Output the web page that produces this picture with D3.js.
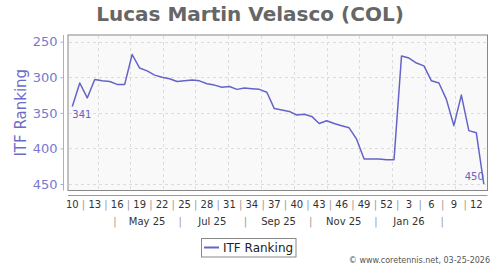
<!DOCTYPE html>
<html>
<head>
<meta charset="utf-8">
<script src="https://cdn.jsdelivr.net/npm/d3@7"></script>
<style>
  body { margin: 0; background: #fff; }
  text { font-family: "DejaVu Sans", sans-serif; }
</style>
</head>
<body>
<div id="viz"></div>
<script>
// weekly ITF ranking, one value per week starting week 10 of 2025
const ranking = [341, 308, 329, 303, 305, 306, 310, 310, 268, 287,
                 291, 297, 300, 302, 306, 305, 304, 305, 309, 311,
                 314, 313, 317, 315, 316, 317, 321, 344, 346, 348,
                 353, 352, 355, 365, 361, 365, 368, 371, 387, 415,
                 415, 415, 416, 416, 270, 273, 280, 284, 305, 308,
                 331, 368, 325, 375, 378, 450];
const weekLabels = ['10', '13', '16', '19', '22', '25', '28', '31', '34', '37',
                    '40', '43', '46', '49', '52', '3', '6', '9', '12'];
const monthLabels = ['May 25', 'Jul 25', 'Sep 25', 'Nov 25', 'Jan 26'];
const yTicks = [250, 300, 350, 400, 450];
const firstDate = new Date(Date.UTC(2025, 2, 8));

const width = 500;
const height = 270;
const plotLeft = 68, plotRight = 487.5, plotTop = 35, plotBottom = 190.5;
const lineColor = '#6464c8';

const dates = ranking.map((d, i) => d3.utcDay.offset(firstDate, i * 7));

const x = d3.scaleUtc()
      .domain([dates[0], dates[dates.length - 1]])
      .range([72.3, 483.8]);

const y = d3.scaleLinear()
      .domain([250, 450])
      .range([41.7, 184]);

const svg = d3.select('#viz')
      .append('svg')
      .attr('width', width)
      .attr('height', height);

// title
svg.append('text')
    .attr('x', 250)
    .attr('y', 20.5)
    .attr('text-anchor', 'middle')
    .attr('font-size', 20)
    .attr('font-weight', 'bold')
    .attr('fill', '#666')
    .text('Lucas Martin Velasco (COL)');

// plot frame
svg.append('rect')
    .attr('x', plotLeft)
    .attr('y', plotTop)
    .attr('width', plotRight - plotLeft)
    .attr('height', plotBottom - plotTop)
    .attr('fill', '#f9f9f9')
    .attr('stroke', '#888')
    .attr('stroke-width', 1);

const grid = svg.append('g')
      .attr('stroke', '#dcdcdc')
      .attr('stroke-width', 1)
      .attr('stroke-dasharray', '3,3');

grid.selectAll('line.h')
    .data(yTicks)
    .join('line')
    .attr('class', 'h')
    .attr('x1', plotLeft + 1)
    .attr('x2', plotRight - 1)
    .attr('y1', d => Math.round(y(d)) + 0.5)
    .attr('y2', d => Math.round(y(d)) + 0.5);

const monthStarts = d3.utcMonth.range(d3.utcMonth.ceil(dates[0]), dates[dates.length - 1]);
grid.selectAll('line.v')
    .data(monthStarts)
    .join('line')
    .attr('class', 'v')
    .attr('x1', d => Math.round(x(d)) + 0.5)
    .attr('x2', d => Math.round(x(d)) + 0.5)
    .attr('y1', plotTop + 1)
    .attr('y2', plotBottom - 1);

// y axis
const yAxis = svg.append('g')
      .attr('transform', 'translate(63.5,0)')
      .call(d3.axisLeft(y).tickValues(yTicks).tickSize(3).tickPadding(3));
yAxis.select('.domain').remove();
yAxis.selectAll('.tick line').attr('stroke', '#aaaadd');
yAxis.selectAll('.tick text')
    .attr('font-size', 13)
    .attr('font-family', '"DejaVu Sans", sans-serif')
    .attr('fill', '#7878d2');
yAxis.append('line')
    .attr('y1', plotTop)
    .attr('y2', plotBottom)
    .attr('stroke', '#aaaadd');

svg.append('text')
    .attr('transform', 'translate(26,' + ((plotTop + plotBottom) / 2) + ') rotate(-90)')
    .attr('text-anchor', 'middle')
    .attr('font-size', 15)
    .attr('fill', '#6c6cc8')
    .text('ITF Ranking');

// x axis line
svg.append('line')
    .attr('x1', plotLeft)
    .attr('x2', plotRight)
    .attr('y1', 195.5)
    .attr('y2', 195.5)
    .attr('stroke', '#999');

// week labels with separators
const weekDates = weekLabels.map((d, i) => dates[i * 3]);
svg.append('g').selectAll('text')
    .data(weekLabels)
    .join('text')
    .attr('x', (d, i) => x(weekDates[i]))
    .attr('y', 208)
    .attr('text-anchor', 'middle')
    .attr('font-size', 10)
    .attr('fill', '#333')
    .text(d => d);

svg.append('g').selectAll('text')
    .data(weekDates.slice(1))
    .join('text')
    .attr('x', (d, i) => (x(weekDates[i]) + x(d)) / 2)
    .attr('y', 208)
    .attr('text-anchor', 'middle')
    .attr('font-size', 10)
    .attr('fill', '#999')
    .text('|');

// month labels with separators
const parseMonth = d3.utcParse('%b %y');
const monthMid = monthLabels.map(m => d3.utcDay.offset(parseMonth(m), 16));
svg.append('g').selectAll('text')
    .data(monthLabels)
    .join('text')
    .attr('x', (d, i) => x(monthMid[i]))
    .attr('y', 225)
    .attr('text-anchor', 'middle')
    .attr('font-size', 10)
    .attr('fill', '#333')
    .text(d => d);

const monthSeps = [d3.utcMonth.offset(monthMid[0], -1)].concat(monthMid.map(d => d3.utcMonth.offset(d, 1)));
svg.append('g').selectAll('text')
    .data(monthSeps)
    .join('text')
    .attr('x', d => x(d))
    .attr('y', 225)
    .attr('text-anchor', 'middle')
    .attr('font-size', 10)
    .attr('fill', '#999')
    .text('|');

// the ranking line
const line = d3.line()
      .x((d, i) => x(dates[i]))
      .y(d => y(d));

svg.append('path')
    .datum(ranking)
    .attr('d', line)
    .attr('fill', 'none')
    .attr('stroke', lineColor)
    .attr('stroke-width', 1.5)
    .attr('stroke-linejoin', 'round');

// first and last value labels
const n = ranking.length - 1;
svg.append('text')
    .attr('x', x(dates[0]))
    .attr('y', y(ranking[0]) + 12)
    .attr('font-size', 10)
    .attr('fill', lineColor)
    .text(ranking[0]);

svg.append('text')
    .attr('x', x(dates[n]))
    .attr('y', y(ranking[n]) - 4)
    .attr('text-anchor', 'end')
    .attr('font-size', 10)
    .attr('fill', lineColor)
    .text(ranking[n]);

// legend
const legend = svg.append('g');
legend.append('rect')
    .attr('x', 201.5)
    .attr('y', 238.5)
    .attr('width', 94.5)
    .attr('height', 18.5)
    .attr('fill', '#fff')
    .attr('stroke', '#888');
legend.append('line')
    .attr('x1', 204)
    .attr('x2', 219)
    .attr('y1', 247.5)
    .attr('y2', 247.5)
    .attr('stroke', lineColor)
    .attr('stroke-width', 2);
legend.append('text')
    .attr('x', 223)
    .attr('y', 252)
    .attr('font-size', 12)
    .attr('fill', '#222')
    .text('ITF Ranking');

// footer
svg.append('text')
    .attr('x', 490)
    .attr('y', 263)
    .attr('text-anchor', 'end')
    .attr('font-size', 8)
    .attr('fill', '#555')
    .text('\u00a9 www.coretennis.net, 03-25-2026');
</script>
</body>
</html>
